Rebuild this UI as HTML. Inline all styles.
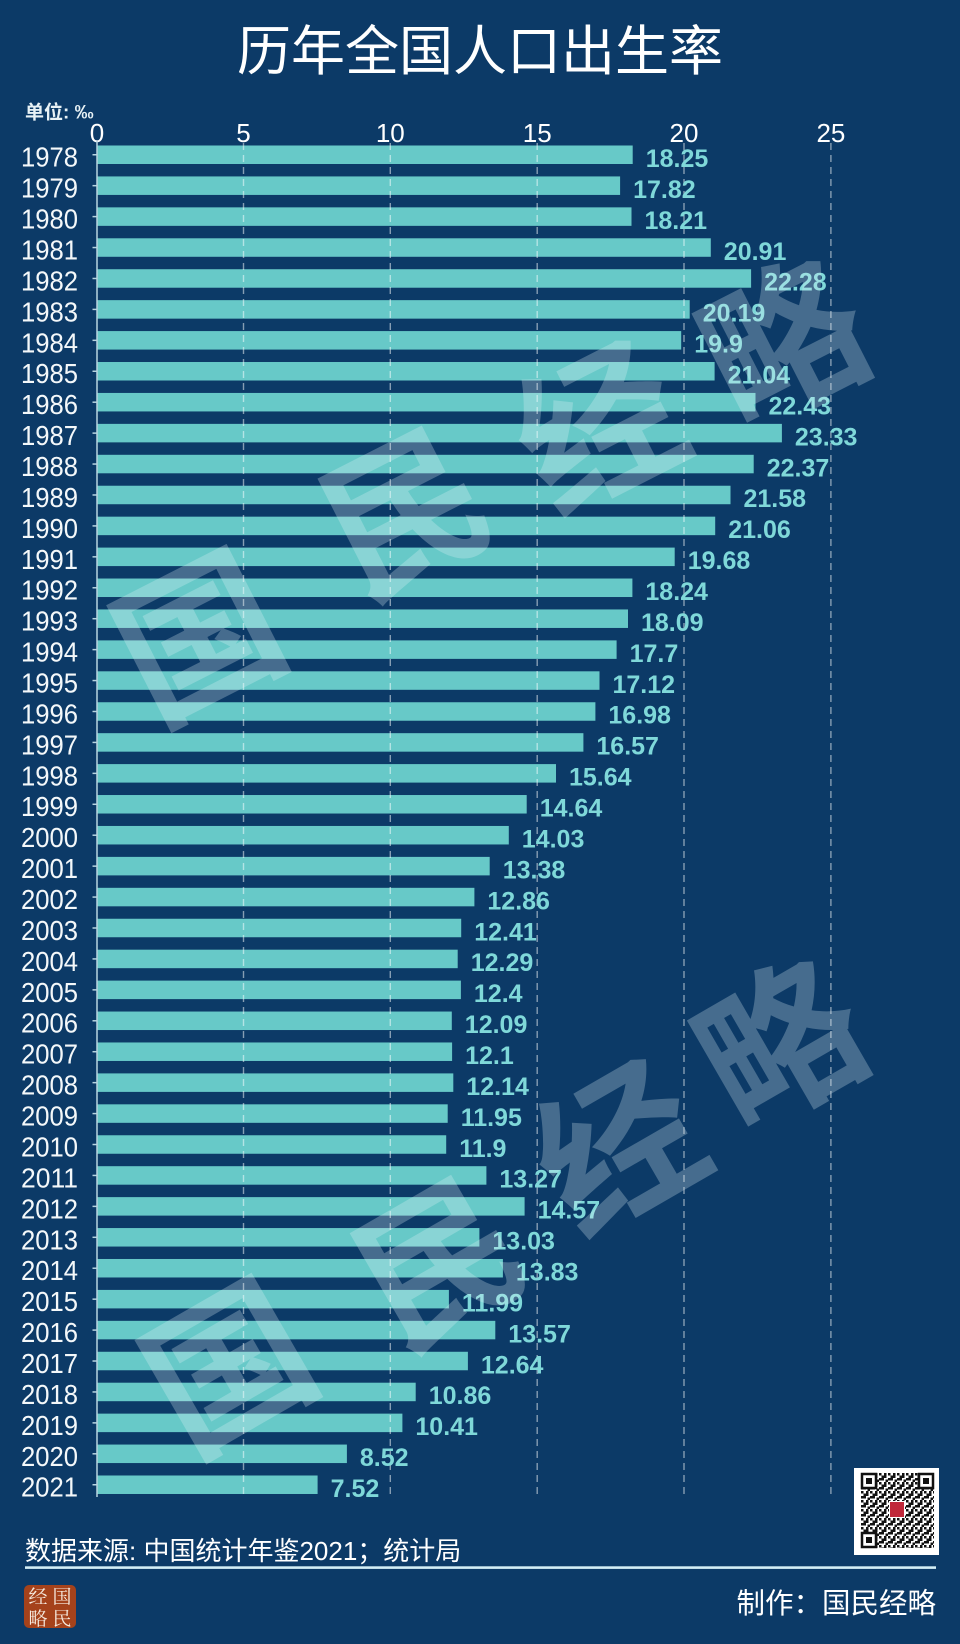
<!DOCTYPE html>
<html><head><meta charset="utf-8">
<style>
html,body{margin:0;padding:0;background:#0c3a67;}
svg{display:block;}
</style></head>
<body>
<svg width="960" height="1644" viewBox="0 0 960 1644" xmlns="http://www.w3.org/2000/svg">
<defs>
<pattern id="qrp" x="861" y="1473" width="9" height="9" patternUnits="userSpaceOnUse">
<rect x="0" y="0" width="2.5" height="2.5" fill="#111"/>
<rect x="5" y="0" width="2.5" height="5" fill="#111"/>
<rect x="2.5" y="2.5" width="2.5" height="2.5" fill="#111"/>
<rect x="0" y="5" width="5" height="2.5" fill="#111"/>
<rect x="6.5" y="6.5" width="2.5" height="2.5" fill="#111"/>
</pattern>
</defs>
<rect x="0" y="0" width="960" height="1644" fill="#0c3a67"/>

<text x="480" y="70" text-anchor="middle" font-family="Liberation Sans, Noto Sans CJK SC, sans-serif" font-size="54" fill="#ffffff">历年全国人口出生率</text>
<text x="25" y="118.5" font-family="Liberation Sans, Noto Sans CJK SC, sans-serif" font-size="19" font-weight="bold" fill="#e8f2f6">单位: ‰</text>

<g font-family="Liberation Sans, sans-serif" font-size="26" fill="#ffffff" text-anchor="middle">
<text x="97" y="142">0</text>
<text x="243.5" y="142">5</text>
<text x="390.3" y="142">10</text>
<text x="537.2" y="142">15</text>
<text x="684" y="142">20</text>
<text x="830.9" y="142">25</text>
</g>

<g fill="#67c9c8">
<rect x="96.7" y="145.5" width="536.0" height="18.5"/>
<rect x="96.7" y="176.43" width="523.4" height="18.5"/>
<rect x="96.7" y="207.36" width="534.8" height="18.5"/>
<rect x="96.7" y="238.29" width="614.1" height="18.5"/>
<rect x="96.7" y="269.22" width="654.4" height="18.5"/>
<rect x="96.7" y="300.15" width="593.0" height="18.5"/>
<rect x="96.7" y="331.08" width="584.5" height="18.5"/>
<rect x="96.7" y="362.01" width="617.9" height="18.5"/>
<rect x="96.7" y="392.94" width="658.8" height="18.5"/>
<rect x="96.7" y="423.87" width="685.2" height="18.5"/>
<rect x="96.7" y="454.8" width="657.0" height="18.5"/>
<rect x="96.7" y="485.73" width="633.8" height="18.5"/>
<rect x="96.7" y="516.66" width="618.5" height="18.5"/>
<rect x="96.7" y="547.59" width="578.0" height="18.5"/>
<rect x="96.7" y="578.52" width="535.7" height="18.5"/>
<rect x="96.7" y="609.45" width="531.3" height="18.5"/>
<rect x="96.7" y="640.38" width="519.9" height="18.5"/>
<rect x="96.7" y="671.31" width="502.8" height="18.5"/>
<rect x="96.7" y="702.24" width="498.7" height="18.5"/>
<rect x="96.7" y="733.17" width="486.7" height="18.5"/>
<rect x="96.7" y="764.1" width="459.3" height="18.5"/>
<rect x="96.7" y="795.03" width="430.0" height="18.5"/>
<rect x="96.7" y="825.96" width="412.1" height="18.5"/>
<rect x="96.7" y="856.89" width="393.0" height="18.5"/>
<rect x="96.7" y="887.82" width="377.7" height="18.5"/>
<rect x="96.7" y="918.75" width="364.5" height="18.5"/>
<rect x="96.7" y="949.68" width="361.0" height="18.5"/>
<rect x="96.7" y="980.61" width="364.2" height="18.5"/>
<rect x="96.7" y="1011.54" width="355.1" height="18.5"/>
<rect x="96.7" y="1042.47" width="355.4" height="18.5"/>
<rect x="96.7" y="1073.4" width="356.6" height="18.5"/>
<rect x="96.7" y="1104.33" width="351.0" height="18.5"/>
<rect x="96.7" y="1135.26" width="349.5" height="18.5"/>
<rect x="96.7" y="1166.19" width="389.7" height="18.5"/>
<rect x="96.7" y="1197.12" width="427.9" height="18.5"/>
<rect x="96.7" y="1228.05" width="382.7" height="18.5"/>
<rect x="96.7" y="1258.98" width="406.2" height="18.5"/>
<rect x="96.7" y="1289.91" width="352.2" height="18.5"/>
<rect x="96.7" y="1320.84" width="398.6" height="18.5"/>
<rect x="96.7" y="1351.77" width="371.2" height="18.5"/>
<rect x="96.7" y="1382.7" width="319.0" height="18.5"/>
<rect x="96.7" y="1413.63" width="305.7" height="18.5"/>
<rect x="96.7" y="1444.56" width="250.2" height="18.5"/>
<rect x="96.7" y="1475.49" width="220.9" height="18.5"/>
</g>

<g stroke="#ffffff" stroke-opacity="0.5" stroke-width="1.4" stroke-dasharray="7 5">
<line x1="243.5" y1="143" x2="243.5" y2="1497"/>
<line x1="390.3" y1="143" x2="390.3" y2="1497"/>
<line x1="537.2" y1="143" x2="537.2" y2="1497"/>
<line x1="684" y1="143" x2="684" y2="1497"/>
<line x1="830.9" y1="143" x2="830.9" y2="1497"/>
</g>

<line x1="97" y1="141" x2="97" y2="1497" stroke="#b8d4e0" stroke-width="1.5"/>
<g stroke="#b8d4e0" stroke-width="1.5">
<line x1="92.5" x2="97" y1="154.75" y2="154.75"/>
<line x1="92.5" x2="97" y1="185.68" y2="185.68"/>
<line x1="92.5" x2="97" y1="216.61" y2="216.61"/>
<line x1="92.5" x2="97" y1="247.54" y2="247.54"/>
<line x1="92.5" x2="97" y1="278.47" y2="278.47"/>
<line x1="92.5" x2="97" y1="309.4" y2="309.4"/>
<line x1="92.5" x2="97" y1="340.33" y2="340.33"/>
<line x1="92.5" x2="97" y1="371.26" y2="371.26"/>
<line x1="92.5" x2="97" y1="402.19" y2="402.19"/>
<line x1="92.5" x2="97" y1="433.12" y2="433.12"/>
<line x1="92.5" x2="97" y1="464.05" y2="464.05"/>
<line x1="92.5" x2="97" y1="494.98" y2="494.98"/>
<line x1="92.5" x2="97" y1="525.91" y2="525.91"/>
<line x1="92.5" x2="97" y1="556.84" y2="556.84"/>
<line x1="92.5" x2="97" y1="587.77" y2="587.77"/>
<line x1="92.5" x2="97" y1="618.7" y2="618.7"/>
<line x1="92.5" x2="97" y1="649.63" y2="649.63"/>
<line x1="92.5" x2="97" y1="680.56" y2="680.56"/>
<line x1="92.5" x2="97" y1="711.49" y2="711.49"/>
<line x1="92.5" x2="97" y1="742.42" y2="742.42"/>
<line x1="92.5" x2="97" y1="773.35" y2="773.35"/>
<line x1="92.5" x2="97" y1="804.28" y2="804.28"/>
<line x1="92.5" x2="97" y1="835.21" y2="835.21"/>
<line x1="92.5" x2="97" y1="866.14" y2="866.14"/>
<line x1="92.5" x2="97" y1="897.07" y2="897.07"/>
<line x1="92.5" x2="97" y1="928" y2="928"/>
<line x1="92.5" x2="97" y1="958.93" y2="958.93"/>
<line x1="92.5" x2="97" y1="989.86" y2="989.86"/>
<line x1="92.5" x2="97" y1="1020.79" y2="1020.79"/>
<line x1="92.5" x2="97" y1="1051.72" y2="1051.72"/>
<line x1="92.5" x2="97" y1="1082.65" y2="1082.65"/>
<line x1="92.5" x2="97" y1="1113.58" y2="1113.58"/>
<line x1="92.5" x2="97" y1="1144.51" y2="1144.51"/>
<line x1="92.5" x2="97" y1="1175.44" y2="1175.44"/>
<line x1="92.5" x2="97" y1="1206.37" y2="1206.37"/>
<line x1="92.5" x2="97" y1="1237.3" y2="1237.3"/>
<line x1="92.5" x2="97" y1="1268.23" y2="1268.23"/>
<line x1="92.5" x2="97" y1="1299.16" y2="1299.16"/>
<line x1="92.5" x2="97" y1="1330.09" y2="1330.09"/>
<line x1="92.5" x2="97" y1="1361.02" y2="1361.02"/>
<line x1="92.5" x2="97" y1="1391.95" y2="1391.95"/>
<line x1="92.5" x2="97" y1="1422.88" y2="1422.88"/>
<line x1="92.5" x2="97" y1="1453.81" y2="1453.81"/>
<line x1="92.5" x2="97" y1="1484.74" y2="1484.74"/>
</g>

<g font-family="Liberation Sans, sans-serif" font-size="28" fill="#f4f8fa" text-anchor="end">
<text x="78" y="166.7" textLength="57" lengthAdjust="spacingAndGlyphs">1978</text>
<text x="78" y="197.63" textLength="57" lengthAdjust="spacingAndGlyphs">1979</text>
<text x="78" y="228.56" textLength="57" lengthAdjust="spacingAndGlyphs">1980</text>
<text x="78" y="259.49" textLength="57" lengthAdjust="spacingAndGlyphs">1981</text>
<text x="78" y="290.42" textLength="57" lengthAdjust="spacingAndGlyphs">1982</text>
<text x="78" y="321.35" textLength="57" lengthAdjust="spacingAndGlyphs">1983</text>
<text x="78" y="352.28" textLength="57" lengthAdjust="spacingAndGlyphs">1984</text>
<text x="78" y="383.21" textLength="57" lengthAdjust="spacingAndGlyphs">1985</text>
<text x="78" y="414.14" textLength="57" lengthAdjust="spacingAndGlyphs">1986</text>
<text x="78" y="445.07" textLength="57" lengthAdjust="spacingAndGlyphs">1987</text>
<text x="78" y="476" textLength="57" lengthAdjust="spacingAndGlyphs">1988</text>
<text x="78" y="506.93" textLength="57" lengthAdjust="spacingAndGlyphs">1989</text>
<text x="78" y="537.86" textLength="57" lengthAdjust="spacingAndGlyphs">1990</text>
<text x="78" y="568.79" textLength="57" lengthAdjust="spacingAndGlyphs">1991</text>
<text x="78" y="599.72" textLength="57" lengthAdjust="spacingAndGlyphs">1992</text>
<text x="78" y="630.65" textLength="57" lengthAdjust="spacingAndGlyphs">1993</text>
<text x="78" y="661.58" textLength="57" lengthAdjust="spacingAndGlyphs">1994</text>
<text x="78" y="692.51" textLength="57" lengthAdjust="spacingAndGlyphs">1995</text>
<text x="78" y="723.44" textLength="57" lengthAdjust="spacingAndGlyphs">1996</text>
<text x="78" y="754.37" textLength="57" lengthAdjust="spacingAndGlyphs">1997</text>
<text x="78" y="785.3" textLength="57" lengthAdjust="spacingAndGlyphs">1998</text>
<text x="78" y="816.23" textLength="57" lengthAdjust="spacingAndGlyphs">1999</text>
<text x="78" y="847.16" textLength="57" lengthAdjust="spacingAndGlyphs">2000</text>
<text x="78" y="878.09" textLength="57" lengthAdjust="spacingAndGlyphs">2001</text>
<text x="78" y="909.02" textLength="57" lengthAdjust="spacingAndGlyphs">2002</text>
<text x="78" y="939.95" textLength="57" lengthAdjust="spacingAndGlyphs">2003</text>
<text x="78" y="970.88" textLength="57" lengthAdjust="spacingAndGlyphs">2004</text>
<text x="78" y="1001.81" textLength="57" lengthAdjust="spacingAndGlyphs">2005</text>
<text x="78" y="1032.74" textLength="57" lengthAdjust="spacingAndGlyphs">2006</text>
<text x="78" y="1063.67" textLength="57" lengthAdjust="spacingAndGlyphs">2007</text>
<text x="78" y="1094.6" textLength="57" lengthAdjust="spacingAndGlyphs">2008</text>
<text x="78" y="1125.53" textLength="57" lengthAdjust="spacingAndGlyphs">2009</text>
<text x="78" y="1156.46" textLength="57" lengthAdjust="spacingAndGlyphs">2010</text>
<text x="78" y="1187.39" textLength="57" lengthAdjust="spacingAndGlyphs">2011</text>
<text x="78" y="1218.32" textLength="57" lengthAdjust="spacingAndGlyphs">2012</text>
<text x="78" y="1249.25" textLength="57" lengthAdjust="spacingAndGlyphs">2013</text>
<text x="78" y="1280.18" textLength="57" lengthAdjust="spacingAndGlyphs">2014</text>
<text x="78" y="1311.11" textLength="57" lengthAdjust="spacingAndGlyphs">2015</text>
<text x="78" y="1342.04" textLength="57" lengthAdjust="spacingAndGlyphs">2016</text>
<text x="78" y="1372.97" textLength="57" lengthAdjust="spacingAndGlyphs">2017</text>
<text x="78" y="1403.9" textLength="57" lengthAdjust="spacingAndGlyphs">2018</text>
<text x="78" y="1434.83" textLength="57" lengthAdjust="spacingAndGlyphs">2019</text>
<text x="78" y="1465.76" textLength="57" lengthAdjust="spacingAndGlyphs">2020</text>
<text x="78" y="1496.69" textLength="57" lengthAdjust="spacingAndGlyphs">2021</text>
</g>

<g font-family="Liberation Sans, sans-serif" font-size="25" font-weight="bold" fill="#7fd8d9">
<text x="645.7" y="167">18.25</text>
<text x="633.1" y="197.93">17.82</text>
<text x="644.5" y="228.86">18.21</text>
<text x="723.8" y="259.79">20.91</text>
<text x="764.1" y="290.72">22.28</text>
<text x="702.7" y="321.65">20.19</text>
<text x="694.2" y="352.58">19.9</text>
<text x="727.6" y="383.51">21.04</text>
<text x="768.5" y="414.44">22.43</text>
<text x="794.9" y="445.37">23.33</text>
<text x="766.7" y="476.3">22.37</text>
<text x="743.5" y="507.23">21.58</text>
<text x="728.2" y="538.16">21.06</text>
<text x="687.7" y="569.09">19.68</text>
<text x="645.4" y="600.02">18.24</text>
<text x="641.0" y="630.95">18.09</text>
<text x="629.6" y="661.88">17.7</text>
<text x="612.5" y="692.81">17.12</text>
<text x="608.4" y="723.74">16.98</text>
<text x="596.4" y="754.67">16.57</text>
<text x="569.0" y="785.6">15.64</text>
<text x="539.7" y="816.53">14.64</text>
<text x="521.8" y="847.46">14.03</text>
<text x="502.7" y="878.39">13.38</text>
<text x="487.4" y="909.32">12.86</text>
<text x="474.2" y="940.25">12.41</text>
<text x="470.7" y="971.18">12.29</text>
<text x="473.9" y="1002.11">12.4</text>
<text x="464.8" y="1033.04">12.09</text>
<text x="465.1" y="1063.97">12.1</text>
<text x="466.3" y="1094.9">12.14</text>
<text x="460.7" y="1125.83">11.95</text>
<text x="459.2" y="1156.76">11.9</text>
<text x="499.4" y="1187.69">13.27</text>
<text x="537.6" y="1218.62">14.57</text>
<text x="492.4" y="1249.55">13.03</text>
<text x="515.9" y="1280.48">13.83</text>
<text x="461.9" y="1311.41">11.99</text>
<text x="508.3" y="1342.34">13.57</text>
<text x="480.9" y="1373.27">12.64</text>
<text x="428.7" y="1404.2">10.86</text>
<text x="415.4" y="1435.13">10.41</text>
<text x="359.9" y="1466.06">8.52</text>
<text x="330.6" y="1496.99">7.52</text>
</g>

<!-- watermarks -->
<g font-family="Noto Sans CJK SC, sans-serif" font-weight="bold" font-size="160" fill="#e4f3f7" fill-opacity="0.27" text-anchor="middle">
<text transform="translate(200,640) rotate(-27)" y="56">国</text>
<text transform="translate(406,515) rotate(-27)" y="56">民</text>
<text transform="translate(600,430) rotate(-27)" y="56">经</text>
<text transform="translate(785,345) rotate(-27)" y="56">略</text>
<text transform="translate(230,1370) rotate(-30)" y="56">国</text>
<text transform="translate(440,1265) rotate(-30)" y="56">民</text>
<text transform="translate(620,1150) rotate(-30)" y="56">经</text>
<text transform="translate(782,1047) rotate(-30)" y="56">略</text>
</g>

<!-- QR code -->
<rect x="854" y="1468" width="85" height="87" fill="#ffffff"/>
<rect x="861" y="1473" width="73" height="75" fill="url(#qrp)"/>
<g>
<rect x="861" y="1473" width="16" height="16" fill="#ffffff"/>
<rect x="862" y="1474" width="14" height="14" fill="none" stroke="#111" stroke-width="2.5"/>
<rect x="866" y="1478" width="6" height="6" fill="#111"/>
<rect x="918" y="1473" width="16" height="16" fill="#ffffff"/>
<rect x="919" y="1474" width="14" height="14" fill="none" stroke="#111" stroke-width="2.5"/>
<rect x="923" y="1478" width="6" height="6" fill="#111"/>
<rect x="861" y="1532" width="16" height="16" fill="#ffffff"/>
<rect x="862" y="1533" width="14" height="14" fill="none" stroke="#111" stroke-width="2.5"/>
<rect x="866" y="1537" width="6" height="6" fill="#111"/>
<rect x="889" y="1501" width="16" height="17" fill="#ffffff"/>
<rect x="890" y="1502" width="14" height="15" fill="#c0283a"/>
</g>

<!-- source -->
<text x="25" y="1560" font-family="Liberation Sans, Noto Sans CJK SC, sans-serif" font-size="26" fill="#ffffff">数据来源: 中国统计年鉴2021；统计局</text>
<rect x="25" y="1566.3" width="911" height="2.6" fill="#d3eef6"/>

<!-- logo -->
<rect x="24" y="1585" width="52" height="43" rx="5" fill="#a5421b"/>
<g font-family="Noto Serif CJK SC, serif" font-size="19" fill="#f6ebe0" text-anchor="middle">
<text x="38" y="1603">经</text>
<text x="62" y="1603">国</text>
<text x="38" y="1625">略</text>
<text x="62" y="1625">民</text>
</g>

<text x="936" y="1613" text-anchor="end" font-family="Liberation Sans, Noto Sans CJK SC, sans-serif" font-size="28.5" fill="#ffffff">制作：国民经略</text>
</svg>
</body></html>
